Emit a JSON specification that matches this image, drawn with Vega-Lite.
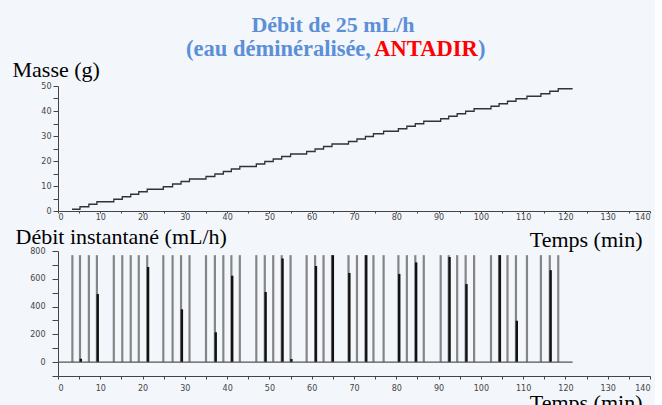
{
  "$schema": "https://vega.github.io/schema/vega-lite/v6.json",
  "background": "#f3f6fb",
  "padding": {"left": 12, "top": 14, "right": 4, "bottom": 0},
  "config": {
    "view": {"stroke": null},
    "axis": {
      "grid": false,
      "labelFont": "DejaVu Sans",
      "labelFontSize": 8,
      "labelColor": "#444",
      "domainColor": "#444",
      "tickColor": "#444",
      "titleFont": "Liberation Serif",
      "titleFontSize": 22,
      "titleFontWeight": "normal",
      "titleColor": "#000",
      "titleAngle": 0,
      "titleBaseline": "alphabetic"
    }
  },
  "datasets": {
    "masse": [
      {"t": 3.3, "m": 0.7}, {"t": 5.2, "m": 1.7}, {"t": 7.3, "m": 2.7}, {"t": 9.2, "m": 3.7},
      {"t": 13.2, "m": 4.7}, {"t": 15.2, "m": 5.7}, {"t": 17.2, "m": 6.7}, {"t": 19.1, "m": 7.7},
      {"t": 21.1, "m": 8.7}, {"t": 24.9, "m": 9.7}, {"t": 27.1, "m": 10.8}, {"t": 29.1, "m": 11.8},
      {"t": 31.1, "m": 12.8}, {"t": 35.0, "m": 13.8}, {"t": 37.1, "m": 14.8}, {"t": 39.1, "m": 15.8},
      {"t": 41.0, "m": 16.8}, {"t": 43.0, "m": 17.8}, {"t": 46.9, "m": 18.8}, {"t": 48.9, "m": 19.8},
      {"t": 50.9, "m": 20.8}, {"t": 52.9, "m": 21.8}, {"t": 55.0, "m": 22.8}, {"t": 58.8, "m": 23.8},
      {"t": 60.8, "m": 24.8}, {"t": 62.8, "m": 25.8}, {"t": 64.8, "m": 26.8}, {"t": 68.7, "m": 27.8},
      {"t": 70.7, "m": 28.8}, {"t": 72.7, "m": 29.8}, {"t": 74.6, "m": 30.9}, {"t": 77.0, "m": 31.9},
      {"t": 80.5, "m": 32.9}, {"t": 82.5, "m": 33.9}, {"t": 84.5, "m": 34.9}, {"t": 86.5, "m": 35.9},
      {"t": 90.5, "m": 36.9}, {"t": 92.4, "m": 37.9}, {"t": 94.4, "m": 38.9}, {"t": 96.4, "m": 39.9},
      {"t": 98.4, "m": 40.9}, {"t": 102.4, "m": 41.9}, {"t": 104.3, "m": 42.9}, {"t": 106.3, "m": 43.9},
      {"t": 108.3, "m": 44.9}, {"t": 110.9, "m": 45.9}, {"t": 114.2, "m": 46.9}, {"t": 116.3, "m": 47.9},
      {"t": 118.3, "m": 48.9}, {"t": 121.7, "m": 48.9}
    ],
    "pics": [
      {"t": 3.4, "debit": 770}, {"t": 5.2, "debit": 770}, {"t": 7.3, "debit": 770}, {"t": 9.2, "debit": 770},
      {"t": 13.2, "debit": 770}, {"t": 15.2, "debit": 770}, {"t": 17.2, "debit": 770}, {"t": 19.1, "debit": 770},
      {"t": 21.1, "debit": 770}, {"t": 24.9, "debit": 770}, {"t": 27.1, "debit": 770}, {"t": 29.1, "debit": 770},
      {"t": 31.1, "debit": 770}, {"t": 35.0, "debit": 770}, {"t": 37.1, "debit": 770}, {"t": 39.1, "debit": 770},
      {"t": 41.0, "debit": 770}, {"t": 43.0, "debit": 770}, {"t": 46.9, "debit": 770}, {"t": 48.9, "debit": 770},
      {"t": 50.9, "debit": 770}, {"t": 52.9, "debit": 770}, {"t": 55.0, "debit": 770}, {"t": 58.8, "debit": 770},
      {"t": 60.8, "debit": 770}, {"t": 62.8, "debit": 770}, {"t": 64.8, "debit": 770}, {"t": 68.7, "debit": 770},
      {"t": 70.7, "debit": 770}, {"t": 72.7, "debit": 770}, {"t": 74.6, "debit": 770}, {"t": 77.0, "debit": 770},
      {"t": 80.5, "debit": 770}, {"t": 82.5, "debit": 770}, {"t": 84.5, "debit": 770}, {"t": 86.5, "debit": 770},
      {"t": 90.5, "debit": 770}, {"t": 92.4, "debit": 770}, {"t": 94.4, "debit": 770}, {"t": 96.4, "debit": 770},
      {"t": 98.4, "debit": 770}, {"t": 102.4, "debit": 770}, {"t": 104.3, "debit": 770}, {"t": 106.3, "debit": 770},
      {"t": 108.3, "debit": 770}, {"t": 110.9, "debit": 770}, {"t": 114.2, "debit": 770}, {"t": 116.3, "debit": 770},
      {"t": 118.3, "debit": 770}
    ],
    "noir": [
      {"t": 5.4, "debit": 24}, {"t": 9.4, "debit": 490}, {"t": 21.3, "debit": 685}, {"t": 29.3, "debit": 380},
      {"t": 37.3, "debit": 215}, {"t": 41.2, "debit": 622}, {"t": 49.1, "debit": 505}, {"t": 53.1, "debit": 746},
      {"t": 55.2, "debit": 22}, {"t": 61.0, "debit": 692}, {"t": 65.0, "debit": 770}, {"t": 68.9, "debit": 642},
      {"t": 72.9, "debit": 770}, {"t": 80.7, "debit": 635}, {"t": 84.7, "debit": 718}, {"t": 92.6, "debit": 757},
      {"t": 96.6, "debit": 562}, {"t": 104.5, "debit": 770}, {"t": 108.5, "debit": 298}, {"t": 116.5, "debit": 662}
    ],
    "base": [
      {"t": 0, "fin": 121.7, "debit": 0}
    ]
  },
  "spacing": 40,
  "bounds": "flush",
  "vconcat": [
    {
      "width": 592,
      "height": 125,
      "layer": [
        {
          "data": {"name": "masse"},
          "mark": {"type": "line", "interpolate": "step-after", "color": "#333", "strokeWidth": 1.3},
          "encoding": {
            "x": {
              "field": "t", "type": "quantitative",
              "scale": {"domain": [0, 140], "nice": false, "zero": false},
              "axis": {
                "values": [0, 5, 10, 15, 20, 25, 30, 35, 40, 45, 50, 55, 60, 65, 70, 75, 80, 85, 90, 95, 100, 105, 110, 115, 120, 125, 130, 135, 140],
                "labelExpr": "datum.value % 10 === 0 ? datum.label : ''",
                "labelOverlap": false,
                "tickSize": 2, "labelPadding": 0,
                "title": "Temps (min)", "titleAlign": "right", "titleX": 584, "titleY": 35
              }
            },
            "y": {
              "field": "m", "type": "quantitative",
              "scale": {"domain": [0, 50], "nice": false},
              "axis": {
                "values": [0, 5, 10, 15, 20, 25, 30, 35, 40, 45, 50],
                "labelExpr": "datum.value % 10 === 0 ? datum.label : ''",
                "labelOverlap": false,
                "tickSize": 5, "labelPadding": 2,
                "title": "Masse (g)", "titleAlign": "left", "titleX": -46, "titleY": -9.5
              }
            }
          }
        },
        {
          "data": {"values": [{"txt": "Débit de 25 mL/h"}]},
          "mark": {"type": "text", "font": "Liberation Serif", "fontSize": 22, "fontWeight": "bold", "color": "#5b8fd7", "align": "center", "baseline": "alphabetic"},
          "encoding": {"text": {"field": "txt"}, "x": {"value": 275}, "y": {"value": -54}}
        },
        {
          "data": {"values": [{"txt": "(eau déminéralisée,"}]},
          "mark": {"type": "text", "font": "Liberation Serif", "fontSize": 22.5, "fontWeight": "bold", "color": "#5b8fd7", "align": "right", "baseline": "alphabetic"},
          "encoding": {"text": {"field": "txt"}, "x": {"value": 313}, "y": {"value": -30}}
        },
        {
          "data": {"values": [{"txt": "ANTADIR"}]},
          "mark": {"type": "text", "font": "Liberation Serif", "fontSize": 22.5, "fontWeight": "bold", "color": "#ff0000", "align": "center", "baseline": "alphabetic"},
          "encoding": {"text": {"field": "txt"}, "x": {"value": 368}, "y": {"value": -30}}
        },
        {
          "data": {"values": [{"txt": ")"}]},
          "mark": {"type": "text", "font": "Liberation Serif", "fontSize": 22.5, "fontWeight": "bold", "color": "#5b8fd7", "align": "left", "baseline": "alphabetic"},
          "encoding": {"text": {"field": "txt"}, "x": {"value": 420}, "y": {"value": -30}}
        }
      ]
    },
    {
      "width": 592,
      "height": 125,
      "encoding": {
        "x": {
          "field": "t", "type": "quantitative",
          "scale": {"domain": [0, 140], "nice": false, "zero": false},
          "axis": {
            "values": [0, 5, 10, 15, 20, 25, 30, 35, 40, 45, 50, 55, 60, 65, 70, 75, 80, 85, 90, 95, 100, 105, 110, 115, 120, 125, 130, 135, 140],
            "labelExpr": "datum.value % 10 === 0 ? datum.label : ''",
            "labelOverlap": false,
            "tickSize": 3, "labelPadding": 5,
            "title": "Temps (min)", "titleAlign": "right", "titleX": 584, "titleY": 33
          }
        },
        "y": {
          "field": "debit", "type": "quantitative",
          "scale": {"domain": [-100, 800], "nice": false, "zero": false},
          "axis": {
            "values": [0, 200, 400, 600, 800, -100, 100, 300, 500, 700],
            "labelExpr": "datum.value >= 0 && datum.value % 200 === 0 ? datum.label : ''",
            "labelOverlap": false,
            "tickSize": 6, "labelPadding": 7,
            "title": "Débit instantané (mL/h)", "titleAlign": "left", "titleX": -43, "titleY": -8
          }
        }
      },
      "layer": [
        {
          "data": {"name": "pics"},
          "mark": {"type": "rule", "color": "#858585", "strokeWidth": 2.2},
          "encoding": {"y2": {"datum": 0}}
        },
        {
          "data": {"name": "noir"},
          "mark": {"type": "rule", "color": "#111", "strokeWidth": 2.4},
          "encoding": {"y2": {"datum": 0}}
        },
        {
          "data": {"name": "base"},
          "mark": {"type": "rule", "color": "#555", "strokeWidth": 1.2},
          "encoding": {"x2": {"field": "fin"}}
        }
      ]
    }
  ]
}
